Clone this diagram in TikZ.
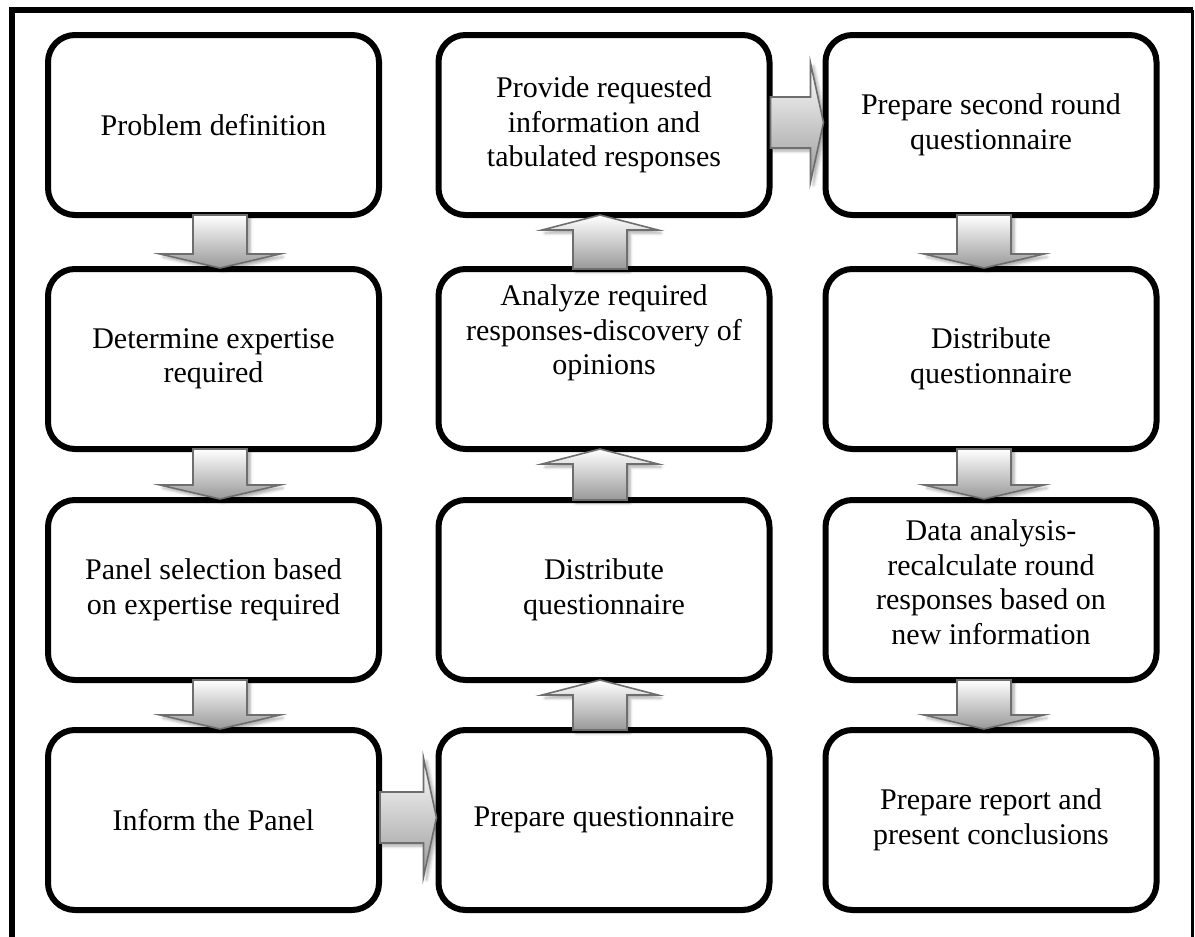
\documentclass[tikz,border=0pt]{standalone}
\usepackage{fontspec}
\setmainfont{Liberation Serif}
\usetikzlibrary{calc,shadows.blur}

\definecolor{arrowedge}{HTML}{6E6E6E}
\definecolor{arrowdark}{HTML}{999999}

\tikzset{
  stage/.style={draw=black, line width=6pt, rounded corners=27pt,
    minimum width=331pt, minimum height=180pt, align=center, inner sep=0pt,
    font=\fontsize{30}{34.5}\selectfont},
  stagetext/.style={align=center, inner sep=0pt, font=\fontsize{30}{34.5}\selectfont},
  blockarrow/.style={draw=arrowedge, line width=1.6pt, line join=miter,
    top color=white, bottom color=arrowdark,
    blur shadow={shadow xshift=3pt, shadow yshift=-3pt,
      shadow blur radius=3pt, shadow opacity=35}},
}

% block arrow pointing down from #1 to #2, shifted sideways by #3
\newcommand\downblock[3]{%
  \path ($(#1.south)+(#3,3)$) coordinate (tA) ($(#2.north)+(#3,-2)$) coordinate (tB);
  \draw[blockarrow] let \p1=(tA), \p2=(tB) in
    (\x1-27pt,\y1) -- (\x1+27pt,\y1) -- (\x1+27pt,\y2+14pt) -- (\x1+60pt,\y2+14pt)
    -- (\x2,\y2) -- (\x1-60pt,\y2+14pt) -- (\x1-27pt,\y2+14pt) -- cycle;
}
% block arrow pointing up from #1 to #2, shifted sideways by #3
\newcommand\upblock[3]{%
  \path ($(#1.north)+(#3,-3)$) coordinate (tA) ($(#2.south)+(#3,3)$) coordinate (tB);
  \draw[blockarrow] let \p1=(tA), \p2=(tB) in
    (\x1-27pt,\y1) -- (\x1+27pt,\y1) -- (\x1+27pt,\y2-15pt) -- (\x1+58pt,\y2-15pt)
    -- (\x2,\y2) -- (\x1-58pt,\y2-15pt) -- (\x1-27pt,\y2-15pt) -- cycle;
}
% block arrow pointing right from #1 to #2, shifted vertically by #3
\newcommand\rightblock[3]{%
  \path ($(#1.east)+(-2,#3)$) coordinate (tA) ($(#2.west)+(1,#3)$) coordinate (tB);
  \draw[blockarrow] let \p1=(tA), \p2=(tB) in
    (\x1,\y1+25.5pt) -- (\x2-13pt,\y1+25.5pt) -- (\x2-13pt,\y1+59.5pt)
    -- (\x2,\y2) -- (\x2-13pt,\y1-59.5pt) -- (\x2-13pt,\y1-25.5pt) -- (\x1,\y1-25.5pt) -- cycle;
}

\begin{document}
\begin{tikzpicture}[x=1pt,y=1pt]
\useasboundingbox (0,0) rectangle (1195,-937);

% outer frame, open at the bottom
\draw[line width=6pt, line join=miter] (11.5,-937) -- (11.5,-10.3) -- (1192.5,-10.3);
\draw[line width=3.5pt] (1192.5,-10.3) -- (1192.5,-937);

% first column
\node[stage] (prob) at (213.5,-125) {Problem definition};
\node[stage] (expert) at (213.5,-359) {Determine expertise\\required};
\node[stage] (panel) at (213.5,-590) {Panel selection based\\on expertise required};
\node[stage] (inform) at (213.5,-820) {Inform the Panel};

% second column
\node[stage] (provide) at (604,-125) {Provide requested\\information and\\tabulated responses};
\node[stage] (analyze) at (604,-359) {};
\node[stagetext] (analyzetext) at (604,-333) {Analyze required\\responses-discovery of\\opinions};
\node[stage] (distA) at (604,-590) {Distribute\\questionnaire};
\node[stage] (prepq) at (604,-820) {Prepare questionnaire};

% third column
\node[stage] (second) at (991,-125) {Prepare second round\\questionnaire};
\node[stage] (distB) at (991,-359) {Distribute\\questionnaire};
\node[stage] (data) at (991,-590) {};
\node[stagetext] (datatext) at (991,-582) {Data analysis-\\recalculate round\\responses based on\\new information};
\node[stage] (report) at (991,-820) {Prepare report and\\present conclusions};

% flow
\downblock{prob}{expert}{6.5}
\downblock{expert}{panel}{6.5}
\downblock{panel}{inform}{6.5}
\rightblock{inform}{prepq}{2.5}
\upblock{prepq}{distA}{-4}
\upblock{distA}{analyze}{-4}
\upblock{analyze}{provide}{-4}
\rightblock{provide}{second}{2.5}
\downblock{second}{distB}{-7}
\downblock{distB}{data}{-7}
\downblock{data}{report}{-7}
\end{tikzpicture}
\end{document}
